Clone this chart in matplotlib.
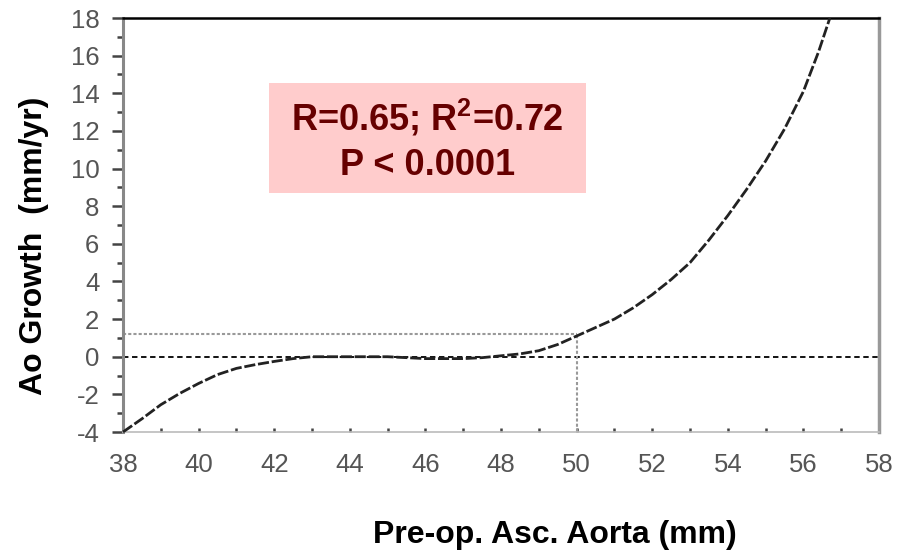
import matplotlib
matplotlib.use("Agg")
import matplotlib.pyplot as plt
from matplotlib.patches import Rectangle

# Data
x_vals = [38, 38.5, 39, 39.5, 40, 40.5, 41, 41.5, 42, 42.5, 43, 44, 45, 45.5, 46, 47, 47.5,
          48, 48.5, 49, 49.5, 50, 50.5, 51, 51.5, 52, 52.5, 53, 53.5, 54, 54.5, 55, 55.5,
          56, 56.4, 56.7]
y_vals = [-4.0, -3.3, -2.55, -1.95, -1.42, -0.95, -0.62, -0.42, -0.25, -0.1, 0.0, 0.0, 0.0, -0.05, -0.1, -0.1, -0.05,
          0.05, 0.15, 0.32, 0.65, 1.1, 1.55, 2.0, 2.6, 3.3, 4.1, 5.0, 6.2, 7.5, 8.9, 10.4, 12.1,
          14.1, 16.2, 18.0]
x_ticks = [38, 40, 42, 44, 46, 48, 50, 52, 54, 56, 58]
y_ticks = [-4, -2, 0, 2, 4, 6, 8, 10, 12, 14, 16, 18]
y_tick_labels = ["-4", "-2", "0", "2", "4", "6", "8", "10", "12", "14", "16", "18"]
ref_x = 50
ref_y = 1.2
stats_line1 = "R=0.65; R$^\\mathregular{2}$=0.72"
stats_line2 = "P < 0.0001"

plt.rcParams['font.family'] = ['Liberation Sans', 'DejaVu Sans']

W, H = 903, 550
fig = plt.figure(figsize=(W / 100, H / 100), dpi=100)
ax = fig.add_axes([123 / W, 1 - 432 / H, (879 - 123) / W, (432 - 18) / H])

ax.set_xlim(38, 58)
ax.set_ylim(-4, 18)

# reference lines
ax.plot([38, 58], [0, 0], color='black', lw=1.3, ls=(0, (3, 2)), zorder=2)
ax.plot([38, ref_x], [ref_y, ref_y], color='#999999', lw=1.5, ls=(0, (1.5, 1)), zorder=2)
ax.plot([ref_x, ref_x], [-4, ref_y], color='#999999', lw=1.5, ls=(0, (1.5, 1)), zorder=2)

# curve
ax.plot(x_vals, y_vals, color='#222222', lw=2.0, ls=(0, (4, 1)), zorder=3, clip_on=False)

# text box
fig.patches.append(Rectangle((269 / W, 1 - 193 / H), (586 - 269) / W, (193 - 83) / H,
                             transform=fig.transFigure, facecolor='#FFCCCC',
                             edgecolor='none', zorder=1))
cx = (269 + 586) / 2 / W
fig.text(cx, 1 - 130 / H, stats_line1, ha='center', va='baseline', fontsize=26,
         fontweight='bold', color='#660000', zorder=5)
fig.text(cx, 1 - 175 / H, stats_line2, ha='center', va='baseline', fontsize=26,
         fontweight='bold', color='#660000', zorder=5)

# spines
ax.spines['top'].set_color('black')
ax.spines['top'].set_linewidth(1.8)
ax.spines['right'].set_color('#999999')
ax.spines['right'].set_linewidth(2.5)
ax.spines['left'].set_color('#888888')
ax.spines['left'].set_linewidth(2.2)
ax.spines['bottom'].set_color('#bbbbbb')
ax.spines['bottom'].set_linewidth(1.2)

ax.set_yticks(y_ticks)
ax.set_yticklabels(y_tick_labels)
ax.set_yticks([v for v in range(-3, 18, 2)], minor=True)
ax.set_xticks(x_ticks)
ax.set_xticks(list(range(39, 58, 2)), minor=True)

ax.tick_params(axis='y', which='major', direction='out', length=8, width=1.8, color='#444444',
               labelsize=18.5, labelcolor='#555555', pad=9)
ax.tick_params(axis='y', which='minor', direction='out', length=4, width=1.8, color='#444444')
ax.tick_params(axis='x', which='both', direction='in', length=3, width=1.8, color='#444444',
               labelsize=18.5, labelcolor='#555555', pad=15)

ax.set_xlabel("Pre-op. Asc. Aorta (mm)", fontsize=23, fontweight='bold')
ax.set_ylabel("Ao Growth  (mm/yr)", fontsize=23, fontweight='bold')
ax.xaxis.set_label_coords((555 - 123) / (879 - 123), -(535 - 432) / (432 - 18), transform=ax.transAxes)
ax.yaxis.set_label_coords(-(123 - 34) / (879 - 123), (432 - 246) / (432 - 18), transform=ax.transAxes)
ax.xaxis.label.set_va('center')
ax.yaxis.label.set_va('center')

fig.savefig("out.png", dpi=100)
